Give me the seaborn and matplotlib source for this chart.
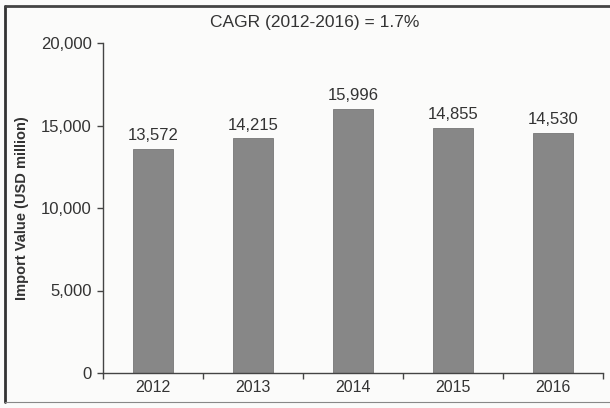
import matplotlib
matplotlib.use("Agg")
import matplotlib.pyplot as plt
from matplotlib.lines import Line2D
import seaborn as sns
import pandas as pd

years = ["2012", "2013", "2014", "2015", "2016"]
import_values = [13572, 14215, 15996, 14855, 14530]
y_ticks = [0, 5000, 10000, 15000, 20000]
cagr_text = "CAGR (2012-2016) = 1.7%"
y_label = "Import Value (USD million)"

sns.set_theme(style="white")
plt.rcParams["font.family"] = ["Liberation Sans", "DejaVu Sans"]

df = pd.DataFrame({"year": years, "value": import_values})

fig = plt.figure(figsize=(6.10, 4.08), dpi=100)
fig.patch.set_facecolor("#fbfbfa")
ax = fig.add_axes([103 / 610, 1 - 373 / 408, 500 / 610, 330 / 408])
ax.set_facecolor("#fbfbfa")

sns.barplot(data=df, x="year", y="value", color="#878787", width=0.4,
            saturation=1, ax=ax, edgecolor="#777777", linewidth=0.6)

ax.set_xlim(-0.5, 4.5)
ax.set_ylim(0, 20000)
ax.set_yticks(y_ticks)
ax.set_yticklabels([f"{v:,}" for v in y_ticks], fontsize=12, color="#333333")
ax.set_xticks(range(len(years)))
ax.set_xticklabels(years, fontsize=11.5, color="#333333")
ax.set_xticks([i - 0.5 for i in range(len(years) + 1)], minor=True)
ax.tick_params(axis="x", which="major", length=0, pad=5)
ax.tick_params(axis="x", which="minor", length=4, width=1, color="#444444",
               direction="out", bottom=True)
ax.tick_params(axis="y", length=4, width=1, color="#444444",
               direction="out", left=True, pad=4)

for side in ("top", "right"):
    ax.spines[side].set_visible(False)
for side in ("left", "bottom"):
    ax.spines[side].set_color("#444444")
    ax.spines[side].set_linewidth(1.0)

ax.set_xlabel("")
ax.set_ylabel(y_label, fontsize=10.5, fontweight="bold", color="#333333",
              labelpad=9)

for i, v in enumerate(import_values):
    ax.text(i, v + 350, f"{v:,}", ha="center", va="bottom",
            fontsize=12, color="#333333")

fig.text(315 / 610, 1 - 22 / 408, cagr_text, ha="center", va="center",
         fontsize=12.5, color="#333333")

# outer frame around the chart
fig.add_artist(Line2D([5 / 610, 5 / 610], [1 - 402 / 408, 1 - 6 / 408],
                      transform=fig.transFigure, color="#333333", lw=2))
fig.add_artist(Line2D([5 / 610, 1.0], [1 - 6 / 408, 1 - 6 / 408],
                      transform=fig.transFigure, color="#444444", lw=2))
fig.add_artist(Line2D([5 / 610, 1.0], [1 - 402 / 408, 1 - 402 / 408],
                      transform=fig.transFigure, color="#888888", lw=0.8))

fig.savefig("out.png", dpi=100, facecolor=fig.get_facecolor())
